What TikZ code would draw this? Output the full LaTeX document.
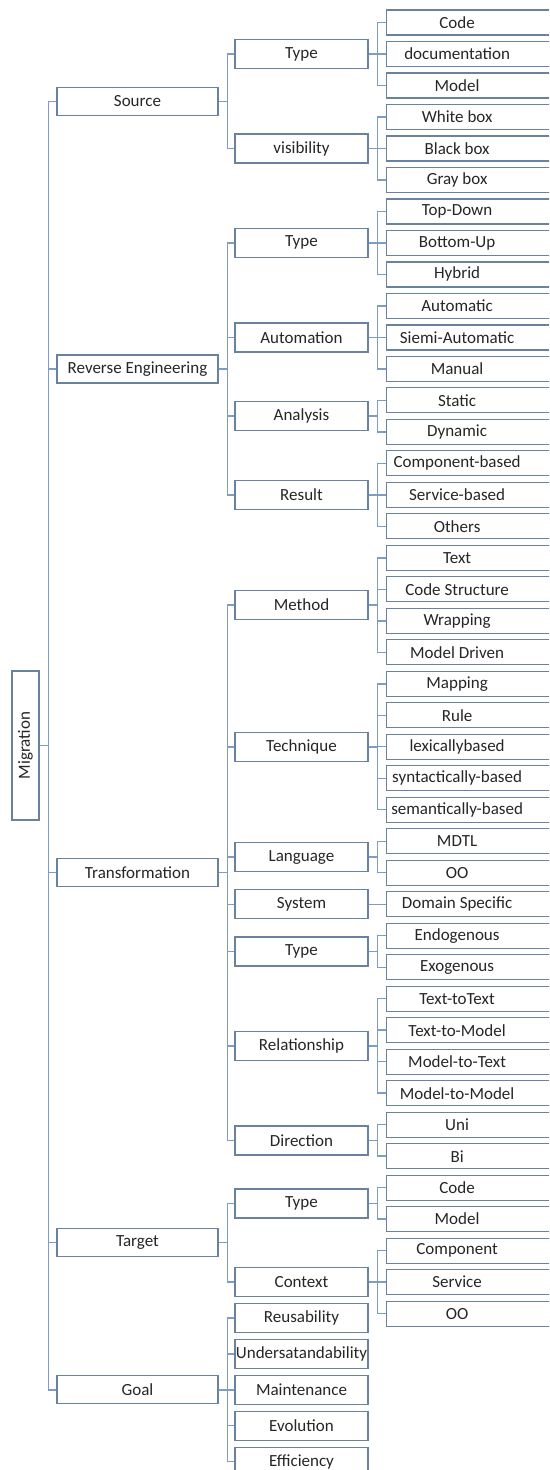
\documentclass[tikz,border=0pt]{standalone}
\usepackage{fontspec}
\setmainfont{Carlito}
\definecolor{bord}{HTML}{6B829F}
\definecolor{lnk}{HTML}{7F9CC4}
\definecolor{txt}{HTML}{262626}
\newcommand\leaftxt[1]{\makebox[141pt]{#1}\hspace*{33pt}}
\begin{document}
\begin{tikzpicture}[x=1pt,y=1pt,
  every node/.style={font=\fontsize{17}{20}\selectfont, text=txt},
  bx/.style={draw=bord, line width=1.2pt, fill=white, inner sep=0pt},
  lvA/.style={bx, minimum width=161pt, minimum height=28pt},
  lvB/.style={bx, minimum width=133pt, minimum height=29pt},
  lvC/.style={bx, minimum width=174pt, minimum height=25pt, anchor=west},
  conn/.style={draw=lnk, line width=1.4pt}]
\useasboundingbox (0,0) rectangle (549,-1470);
\clip (0,0) rectangle (549,-1470);

% root
\node[bx, rotate=90, minimum width=149pt, minimum height=27pt] (mig) at (25.5,-745.5) {Migration};

% level 1
\node[lvA] (src) at (137.5,-101.25) {Source};
\node[lvA] (rev) at (137.5,-368.9) {Reverse Engineering};
\node[lvA] (trf) at (137.5,-872.7) {Transformation};
\node[lvA] (tgt) at (137.5,-1242.7) {Target};
\node[lvA] (gol) at (137.5,-1389.8) {Goal};

% level 2
\foreach \n/\y/\t in {sT/54.0/Type, sV/148.5/visibility,
  rT/242.9/Type, rAu/337.4/Automation, rAn/416.1/Analysis, rR/494.9/Result,
  tM/605.0/Method, tTe/746.8/Technique, tL/857.0/Language, tS/904.2/System,
  tTy/951.4/Type, tR/1045.9/Relationship, tD/1140.4/Direction,
  gT/1203.4/Type, gC/1282.1/Context,
  oR/1318.0/Reusability, oU/1353.9/Undersatandability, oM/1389.8/Maintenance,
  oE/1425.7/Evolution, oF/1461.6/Efficiency}
  \node[lvB] (\n) at (301.5,-\y) {\t};

% leaves
\foreach \n/\i/\t in {sT1/0/Code, sT2/1/documentation, sT3/2/Model,
  sV1/3/White box, sV2/4/Black box, sV3/5/Gray box,
  rT1/6/Top-Down, rT2/7/Bottom-Up, rT3/8/Hybrid,
  rAu1/9/Automatic, rAu2/10/Siemi-Automatic, rAu3/11/Manual,
  rAn1/12/Static, rAn2/13/Dynamic,
  rR1/14/Component-based, rR2/15/Service-based, rR3/16/Others,
  tM1/17/Text, tM2/18/Code Structure, tM3/19/Wrapping, tM4/20/Model Driven,
  tTe1/21/Mapping, tTe2/22/Rule, tTe3/23/lexicallybased, tTe4/24/syntactically-based, tTe5/25/semantically-based,
  tL1/26/MDTL, tL2/27/OO, tS1/28/Domain Specific,
  tTy1/29/Endogenous, tTy2/30/Exogenous,
  tR1/31/Text-toText, tR2/32/Text-to-Model, tR3/33/Model-to-Text, tR4/34/Model-to-Model,
  tD1/35/Uni, tD2/36/Bi,
  gT1/37/Code, gT2/38/Model,
  gC1/39/Component, gC2/40/Service, gC3/41/OO}
  \node[lvC] (\n) at (386,{-22.5-31.49*\i}) {\leaftxt{\t}};

% connectors (root is rotated: its right side is the anchor 'south')
\foreach \c in {src, rev, trf, tgt, gol}
  \draw[conn] (mig.south) -- ++(9,0) |- (\c.west);
\foreach \p/\c in {
  src/sT, src/sV, rev/rT, rev/rAu, rev/rAn, rev/rR,
  trf/tM, trf/tTe, trf/tL, trf/tS, trf/tTy, trf/tR, trf/tD,
  tgt/gT, tgt/gC, gol/oR, gol/oU, gol/oM, gol/oE, gol/oF,
  sT/sT1, sT/sT2, sT/sT3, sV/sV1, sV/sV2, sV/sV3,
  rT/rT1, rT/rT2, rT/rT3, rAu/rAu1, rAu/rAu2, rAu/rAu3,
  rAn/rAn1, rAn/rAn2, rR/rR1, rR/rR2, rR/rR3,
  tM/tM1, tM/tM2, tM/tM3, tM/tM4,
  tTe/tTe1, tTe/tTe2, tTe/tTe3, tTe/tTe4, tTe/tTe5,
  tL/tL1, tL/tL2, tS/tS1, tTy/tTy1, tTy/tTy2,
  tR/tR1, tR/tR2, tR/tR3, tR/tR4, tD/tD1, tD/tD2,
  gT/gT1, gT/gT2, gC/gC1, gC/gC2, gC/gC3}
  \draw[conn] (\p.east) -- ++(9,0) |- (\c.west);
\end{tikzpicture}
\end{document}
